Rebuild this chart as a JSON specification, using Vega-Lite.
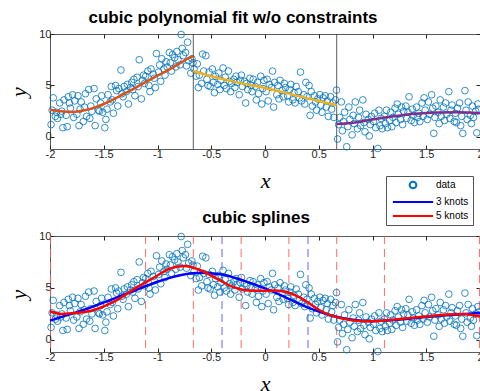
{
  "$schema": "https://vega.github.io/schema/vega-lite/v6.json",
  "padding": {"left": 7, "top": 8, "right": 0, "bottom": 0},
  "bounds": "flush",
  "spacing": 87,
  "datasets": {
    "pts": [
      {"x":-1.99,"y":1.2},{"x":-1.98,"y":2.6},{"x":-1.97,"y":3.8},{"x":-1.95,"y":2.0},{"x":-1.94,"y":2.4},{"x":-1.93,"y":1.8},{"x":-1.91,"y":3.3},{"x":-1.90,"y":2.2},
      {"x":-1.89,"y":2.5},{"x":-1.88,"y":0.9},{"x":-1.87,"y":3.6},{"x":-1.85,"y":2.1},{"x":-1.84,"y":1.0},{"x":-1.83,"y":3.9},{"x":-1.82,"y":3.3},{"x":-1.81,"y":2.8},
      {"x":-1.79,"y":4.1},{"x":-1.78,"y":1.9},{"x":-1.77,"y":3.5},{"x":-1.75,"y":2.2},{"x":-1.74,"y":4.0},{"x":-1.73,"y":1.1},{"x":-1.72,"y":2.7},{"x":-1.71,"y":3.4},
      {"x":-1.69,"y":1.5},{"x":-1.68,"y":2.9},{"x":-1.67,"y":4.2},{"x":-1.66,"y":2.0},{"x":-1.64,"y":4.6},{"x":-1.63,"y":1.8},{"x":-1.62,"y":3.0},{"x":-1.61,"y":2.5},
      {"x":-1.59,"y":4.7},{"x":-1.58,"y":1.1},{"x":-1.57,"y":3.7},{"x":-1.55,"y":2.6},{"x":-1.54,"y":2.5},{"x":-1.53,"y":3.3},{"x":-1.52,"y":4.0},{"x":-1.51,"y":2.4},
      {"x":-1.49,"y":0.9},{"x":-1.48,"y":1.7},{"x":-1.47,"y":2.7},{"x":-1.46,"y":4.1},{"x":-1.44,"y":3.4},{"x":-1.43,"y":4.9},{"x":-1.42,"y":3.6},{"x":-1.41,"y":2.3},
      {"x":-1.39,"y":5.0},{"x":-1.38,"y":4.5},{"x":-1.37,"y":3.0},{"x":-1.36,"y":4.7},{"x":-1.34,"y":6.5},{"x":-1.33,"y":4.2},{"x":-1.32,"y":3.9},{"x":-1.31,"y":4.9},
      {"x":-1.29,"y":4.4},{"x":-1.28,"y":5.1},{"x":-1.27,"y":3.2},{"x":-1.25,"y":4.8},{"x":-1.24,"y":5.3},{"x":-1.23,"y":4.6},{"x":-1.22,"y":5.6},{"x":-1.21,"y":4.0},
      {"x":-1.19,"y":5.8},{"x":-1.18,"y":4.9},{"x":-1.17,"y":7.5},{"x":-1.15,"y":3.7},{"x":-1.14,"y":5.5},{"x":-1.13,"y":6.0},{"x":-1.12,"y":5.2},{"x":-1.11,"y":5.9},
      {"x":-1.09,"y":6.4},{"x":-1.08,"y":5.0},{"x":-1.07,"y":4.4},{"x":-1.06,"y":6.6},{"x":-1.04,"y":6.1},{"x":-1.03,"y":5.7},{"x":-1.02,"y":4.8},{"x":-1.01,"y":8.1},
      {"x":-0.99,"y":6.3},{"x":-0.98,"y":7.0},{"x":-0.97,"y":5.4},{"x":-0.96,"y":7.6},{"x":-0.94,"y":6.6},{"x":-0.93,"y":6.0},{"x":-0.92,"y":7.3},{"x":-0.91,"y":6.8},
      {"x":-0.89,"y":8.2},{"x":-0.88,"y":7.2},{"x":-0.87,"y":6.4},{"x":-0.86,"y":8.0},{"x":-0.84,"y":7.7},{"x":-0.83,"y":6.8},{"x":-0.82,"y":8.3},{"x":-0.81,"y":7.5},
      {"x":-0.79,"y":7.0},{"x":-0.78,"y":9.95},{"x":-0.77,"y":8.6},{"x":-0.76,"y":7.9},{"x":-0.74,"y":8.2},{"x":-0.73,"y":6.9},{"x":-0.72,"y":9.2},{"x":-0.71,"y":7.4},
      {"x":-0.69,"y":6.2},{"x":-0.68,"y":7.6},{"x":-0.67,"y":7.2},{"x":-0.66,"y":6.6},{"x":-0.64,"y":5.9},{"x":-0.63,"y":7.1},{"x":-0.62,"y":4.8},{"x":-0.61,"y":6.0},
      {"x":-0.59,"y":5.2},{"x":-0.58,"y":8.05},{"x":-0.57,"y":6.4},{"x":-0.55,"y":7.9},{"x":-0.54,"y":5.6},{"x":-0.53,"y":5.0},{"x":-0.52,"y":6.3},{"x":-0.51,"y":4.9},
      {"x":-0.49,"y":6.6},{"x":-0.48,"y":5.3},{"x":-0.47,"y":4.3},{"x":-0.46,"y":5.9},{"x":-0.44,"y":5.1},{"x":-0.43,"y":6.2},{"x":-0.42,"y":4.6},{"x":-0.41,"y":5.5},
      {"x":-0.39,"y":6.7},{"x":-0.38,"y":5.0},{"x":-0.37,"y":5.8},{"x":-0.36,"y":4.7},{"x":-0.34,"y":6.4},{"x":-0.33,"y":5.4},{"x":-0.32,"y":4.4},{"x":-0.31,"y":5.2},
      {"x":-0.29,"y":5.6},{"x":-0.28,"y":4.8},{"x":-0.27,"y":5.9},{"x":-0.26,"y":5.3},{"x":-0.24,"y":4.1},{"x":-0.23,"y":5.5},{"x":-0.22,"y":6.0},{"x":-0.21,"y":4.9},
      {"x":-0.19,"y":5.4},{"x":-0.18,"y":3.3},{"x":-0.17,"y":5.2},{"x":-0.16,"y":4.6},{"x":-0.14,"y":5.7},{"x":-0.13,"y":5.0},{"x":-0.12,"y":4.4},{"x":-0.11,"y":5.6},
      {"x":-0.09,"y":4.9},{"x":-0.08,"y":3.6},{"x":-0.07,"y":5.3},{"x":-0.06,"y":4.2},{"x":-0.04,"y":5.9},{"x":-0.03,"y":3.2},{"x":-0.02,"y":4.7},{"x":-0.01,"y":5.5},
      {"x":0.01,"y":4.4},{"x":0.02,"y":5.6},{"x":0.03,"y":3.5},{"x":0.04,"y":5.1},{"x":0.06,"y":4.8},{"x":0.07,"y":6.4},{"x":0.08,"y":2.9},{"x":0.09,"y":5.3},
      {"x":0.11,"y":4.1},{"x":0.12,"y":5.0},{"x":0.13,"y":3.7},{"x":0.14,"y":5.5},{"x":0.16,"y":4.5},{"x":0.17,"y":3.9},{"x":0.18,"y":5.2},{"x":0.19,"y":4.8},
      {"x":0.21,"y":4.0},{"x":0.22,"y":3.4},{"x":0.23,"y":4.6},{"x":0.24,"y":5.1},{"x":0.26,"y":3.6},{"x":0.27,"y":4.3},{"x":0.28,"y":3.3},{"x":0.29,"y":4.9},
      {"x":0.31,"y":4.4},{"x":0.32,"y":3.8},{"x":0.33,"y":6.3},{"x":0.34,"y":3.5},{"x":0.36,"y":4.1},{"x":0.37,"y":3.2},{"x":0.38,"y":5.3},{"x":0.39,"y":3.9},
      {"x":0.41,"y":5.0},{"x":0.42,"y":2.1},{"x":0.43,"y":4.4},{"x":0.44,"y":3.0},{"x":0.46,"y":4.0},{"x":0.47,"y":3.4},{"x":0.48,"y":2.6},{"x":0.49,"y":3.7},
      {"x":0.51,"y":4.1},{"x":0.52,"y":3.1},{"x":0.53,"y":2.4},{"x":0.54,"y":3.8},{"x":0.56,"y":4.0},{"x":0.57,"y":2.9},{"x":0.58,"y":3.5},{"x":0.59,"y":2.0},
      {"x":0.61,"y":3.9},{"x":0.62,"y":2.7},{"x":0.63,"y":3.3},{"x":0.64,"y":1.9},{"x":0.655,"y":3.6},{"x":0.665,"y":4.55},{"x":0.675,"y":-0.2},{"x":0.685,"y":1.2},{"x":0.695,"y":1.9},
      {"x":0.71,"y":3.4},{"x":0.72,"y":0.6},{"x":0.73,"y":1.5},{"x":0.74,"y":2.4},{"x":0.76,"y":-0.95},{"x":0.77,"y":1.0},{"x":0.78,"y":2.9},{"x":0.79,"y":1.7},
      {"x":0.81,"y":0.2},{"x":0.82,"y":2.1},{"x":0.83,"y":1.3},{"x":0.84,"y":3.4},{"x":0.86,"y":0.8},{"x":0.87,"y":1.9},{"x":0.88,"y":2.6},{"x":0.89,"y":1.1},
      {"x":0.91,"y":3.6},{"x":0.92,"y":1.4},{"x":0.93,"y":0.5},{"x":0.94,"y":2.2},{"x":0.96,"y":1.7},{"x":0.97,"y":0.1},{"x":0.98,"y":1.2},{"x":0.99,"y":2.0},
      {"x":1.01,"y":1.5},{"x":1.02,"y":2.3},{"x":1.03,"y":0.9},{"x":1.05,"y":-1.12},{"x":1.06,"y":2.6},{"x":1.07,"y":1.1},{"x":1.08,"y":1.8},{"x":1.09,"y":0.8},
      {"x":1.11,"y":2.0},{"x":1.12,"y":1.3},{"x":1.13,"y":2.6},{"x":1.14,"y":0.9},{"x":1.16,"y":1.6},{"x":1.17,"y":2.4},{"x":1.18,"y":1.0},{"x":1.19,"y":1.9},
      {"x":1.21,"y":2.8},{"x":1.22,"y":1.4},{"x":1.23,"y":3.2},{"x":1.24,"y":2.2},{"x":1.26,"y":1.7},{"x":1.27,"y":2.9},{"x":1.28,"y":1.2},{"x":1.29,"y":2.5},
      {"x":1.31,"y":3.0},{"x":1.32,"y":1.8},{"x":1.33,"y":2.4},{"x":1.34,"y":3.9},{"x":1.36,"y":1.6},{"x":1.37,"y":2.7},{"x":1.38,"y":2.1},{"x":1.39,"y":1.4},
      {"x":1.41,"y":2.9},{"x":1.42,"y":1.9},{"x":1.43,"y":2.3},{"x":1.44,"y":1.5},{"x":1.46,"y":3.3},{"x":1.47,"y":2.0},{"x":1.48,"y":3.8},{"x":1.49,"y":2.6},
      {"x":1.51,"y":1.7},{"x":1.52,"y":3.4},{"x":1.53,"y":2.2},{"x":1.55,"y":4.1},{"x":1.56,"y":2.8},{"x":1.57,"y":0.35},{"x":1.58,"y":1.9},{"x":1.59,"y":3.0},
      {"x":1.61,"y":2.4},{"x":1.62,"y":1.3},{"x":1.63,"y":3.6},{"x":1.64,"y":2.0},{"x":1.66,"y":2.9},{"x":1.67,"y":1.6},{"x":1.68,"y":3.3},{"x":1.69,"y":2.2},
      {"x":1.71,"y":4.4},{"x":1.72,"y":1.8},{"x":1.73,"y":2.6},{"x":1.74,"y":3.1},{"x":1.76,"y":1.5},{"x":1.77,"y":2.3},{"x":1.78,"y":1.4},{"x":1.79,"y":2.8},
      {"x":1.81,"y":3.3},{"x":1.82,"y":1.1},{"x":1.83,"y":2.0},{"x":1.84,"y":0.35},{"x":1.86,"y":4.5},{"x":1.87,"y":2.6},{"x":1.88,"y":1.7},{"x":1.89,"y":3.4},
      {"x":1.91,"y":2.1},{"x":1.92,"y":1.3},{"x":1.93,"y":3.0},{"x":1.94,"y":1.9},{"x":1.96,"y":2.5},{"x":1.97,"y":0.4},{"x":1.98,"y":3.2},{"x":1.99,"y":2.7}
    ],
    "fitA": [
      {"x":-2,"y":2.65},{"x":-1.9,"y":2.5},{"x":-1.8,"y":2.43},{"x":-1.7,"y":2.55},{"x":-1.6,"y":2.8},{"x":-1.5,"y":3.2},{"x":-1.4,"y":3.7},{"x":-1.3,"y":4.25},{"x":-1.2,"y":4.8},{"x":-1.1,"y":5.4},{"x":-1.0,"y":5.95},{"x":-0.9,"y":6.5},{"x":-0.8,"y":7.1},{"x":-0.7,"y":7.7},{"x":-0.667,"y":7.85}
    ],
    "fitB": [
      {"x":-0.667,"y":6.4},{"x":-0.5,"y":5.9},{"x":-0.3,"y":5.4},{"x":0,"y":4.75},{"x":0.3,"y":4.0},{"x":0.5,"y":3.5},{"x":0.667,"y":3.08}
    ],
    "fitC": [
      {"x":0.667,"y":1.25},{"x":0.8,"y":1.35},{"x":1.0,"y":1.7},{"x":1.2,"y":2.0},{"x":1.4,"y":2.25},{"x":1.6,"y":2.38},{"x":1.8,"y":2.4},{"x":2.0,"y":2.3}
    ],
    "sp3": [
      {"x":-2,"y":1.85},{"x":-1.8,"y":2.5},{"x":-1.6,"y":3.2},{"x":-1.4,"y":4.0},{"x":-1.2,"y":4.8},{"x":-1.0,"y":5.6},{"x":-0.8,"y":6.2},{"x":-0.6,"y":6.45},{"x":-0.4,"y":6.3},{"x":-0.2,"y":5.7},{"x":0,"y":4.95},{"x":0.2,"y":4.05},{"x":0.4,"y":3.1},{"x":0.6,"y":2.4},{"x":0.8,"y":1.95},{"x":1.0,"y":1.8},{"x":1.2,"y":1.9},{"x":1.4,"y":2.1},{"x":1.6,"y":2.3},{"x":1.8,"y":2.45},{"x":2.0,"y":2.6}
    ],
    "sp5": [
      {"x":-2,"y":2.75},{"x":-1.9,"y":2.5},{"x":-1.8,"y":2.55},{"x":-1.6,"y":2.85},{"x":-1.4,"y":3.7},{"x":-1.2,"y":5.0},{"x":-1.0,"y":6.2},{"x":-0.9,"y":6.8},{"x":-0.75,"y":7.1},{"x":-0.6,"y":6.7},{"x":-0.45,"y":5.9},{"x":-0.3,"y":5.1},{"x":-0.15,"y":4.75},{"x":0,"y":4.72},{"x":0.1,"y":4.75},{"x":0.2,"y":4.6},{"x":0.3,"y":4.2},{"x":0.4,"y":3.6},{"x":0.5,"y":2.9},{"x":0.6,"y":2.4},{"x":0.7,"y":2.1},{"x":0.85,"y":1.85},{"x":1.0,"y":1.8},{"x":1.1,"y":1.85},{"x":1.3,"y":2.05},{"x":1.5,"y":2.25},{"x":1.7,"y":2.45},{"x":1.85,"y":2.5},{"x":2.0,"y":2.25}
    ],
    "brk": [{"x":-0.667},{"x":0.667}],
    "k3": [{"x":-0.4},{"x":0.4}],
    "k5": [{"x":-1.995},{"x":-1.111},{"x":-0.667},{"x":-0.222},{"x":0.222},{"x":0.667},{"x":1.111},{"x":1.995}]
  },
  "vconcat": [
    {
      "width": 430,
      "height": 115,
      "title": {"text": "cubic polynomial fit w/o constraints", "dx": -32, "offset": 1},
      "layer": [
        {
          "data": {"name": "pts"},
          "mark": {"type": "point", "filled": false, "color": "#0072BD", "size": 45, "strokeWidth": 0.8, "opacity": 1},
          "encoding": {
            "x": {"field": "x", "type": "quantitative", "scale": {"domain": [-2, 2], "nice": false, "zero": false},
                  "axis": {"values": [-2, -1.5, -1, -0.5, 0, 0.5, 1, 1.5, 2], "title": "x", "labelExpr": "'' + datum.value", "titlePadding": 11}},
            "y": {"field": "y", "type": "quantitative", "scale": {"domain": [-1.17, 10], "nice": false, "zero": false},
                  "axis": {"values": [0, 5, 10], "title": "y", "titlePadding": 8}}
          }
        },
        {
          "data": {"name": "brk"},
          "mark": {"type": "rule", "color": "#333333", "strokeWidth": 0.8},
          "encoding": {"x": {"field": "x", "type": "quantitative", "axis": null}}
        },
        {
          "data": {"name": "fitA"},
          "mark": {"type": "line", "color": "#D95319", "strokeWidth": 2.5, "interpolate": "monotone"},
          "encoding": {"x": {"field": "x", "type": "quantitative", "axis": null}, "y": {"field": "y", "type": "quantitative", "axis": null}}
        },
        {
          "data": {"name": "fitB"},
          "mark": {"type": "line", "color": "#EDB120", "strokeWidth": 2.5, "interpolate": "monotone"},
          "encoding": {"x": {"field": "x", "type": "quantitative", "axis": null}, "y": {"field": "y", "type": "quantitative", "axis": null}}
        },
        {
          "data": {"name": "fitC"},
          "mark": {"type": "line", "color": "#7E2F8E", "strokeWidth": 2.5, "interpolate": "monotone"},
          "encoding": {"x": {"field": "x", "type": "quantitative", "axis": null}, "y": {"field": "y", "type": "quantitative", "axis": null}}
        },
        {
          "data": {"name": "brk"},
          "mark": {"type": "point", "opacity": 0},
          "encoding": {
            "x": {"field": "x", "type": "quantitative", "axis": {"orient": "top", "labels": false, "title": null, "values": [-2, -1.5, -1, -0.5, 0, 0.5, 1, 1.5, 2]}},
            "y": {"datum": 5, "type": "quantitative", "axis": {"orient": "right", "labels": false, "title": null, "values": [0, 5, 10]}}
          }
        }
      ],
      "resolve": {"axis": {"x": "independent", "y": "independent"}}
    },
    {
      "width": 430,
      "height": 116,
      "title": {"text": "cubic splines", "dx": -9, "offset": 3},
      "layer": [
        {
          "data": {"name": "k5"},
          "mark": {"type": "rule", "color": "#FF5A5A", "strokeWidth": 0.9, "strokeDash": [8, 5]},
          "encoding": {"x": {"field": "x", "type": "quantitative", "axis": null}}
        },
        {
          "data": {"name": "k3"},
          "mark": {"type": "rule", "color": "#3a3aff", "strokeWidth": 0.8, "strokeDash": [8, 5]},
          "encoding": {"x": {"field": "x", "type": "quantitative", "axis": null}}
        },
        {
          "data": {"name": "pts"},
          "mark": {"type": "point", "filled": false, "size": 45, "strokeWidth": 0.8, "opacity": 1},
          "encoding": {
            "x": {"field": "x", "type": "quantitative", "scale": {"domain": [-2, 2], "nice": false, "zero": false},
                  "axis": {"values": [-2, -1.5, -1, -0.5, 0, 0.5, 1, 1.5, 2], "title": "x", "labelExpr": "'' + datum.value", "titlePadding": 11}},
            "y": {"field": "y", "type": "quantitative", "scale": {"domain": [-1.17, 10], "nice": false, "zero": false},
                  "axis": {"values": [0, 5, 10], "title": "y", "titlePadding": 8}},
            "color": {"datum": "data", "type": "nominal",
                      "scale": {"domain": ["data", "3 knots", "5 knots"], "range": ["#0072BD", "#0000FF", "#FF0000"]},
                      "legend": {"orient": "none", "legendX": 336, "legendY": 142, "title": null, "symbolOffset": 18, "labelOffset": 18, "rowPadding": 4, "labelExpr": "datum.label + '\u00a0\u00a0'"}},
            "shape": {"datum": "data", "type": "nominal",
                      "scale": {"domain": ["data", "3 knots", "5 knots"], "range": ["circle", "M-6,0H6", "M-6,0H6"]},
                      "legend": {"orient": "none", "legendX": 336, "legendY": 142, "title": null, "symbolOffset": 18, "labelOffset": 18, "rowPadding": 4, "labelExpr": "datum.label + '\u00a0\u00a0'"}}
          }
        },
        {
          "data": {"name": "sp3"},
          "mark": {"type": "line", "interpolate": "monotone", "strokeWidth": 2.5},
          "encoding": {"x": {"field": "x", "type": "quantitative", "axis": null}, "y": {"field": "y", "type": "quantitative", "axis": null},
                       "color": {"datum": "3 knots", "type": "nominal"}}
        },
        {
          "data": {"name": "sp5"},
          "mark": {"type": "line", "interpolate": "monotone", "strokeWidth": 2.5},
          "encoding": {"x": {"field": "x", "type": "quantitative", "axis": null}, "y": {"field": "y", "type": "quantitative", "axis": null},
                       "color": {"datum": "5 knots", "type": "nominal"}}
        },
        {
          "data": {"name": "k3"},
          "mark": {"type": "point", "opacity": 0},
          "encoding": {
            "x": {"field": "x", "type": "quantitative", "axis": {"orient": "top", "labels": false, "title": null, "values": [-2, -1.5, -1, -0.5, 0, 0.5, 1, 1.5, 2]}},
            "y": {"datum": 5, "type": "quantitative", "axis": {"orient": "right", "labels": false, "title": null, "values": [0, 5, 10]}}
          }
        }
      ],
      "resolve": {"axis": {"x": "independent", "y": "independent"}}
    }
  ],
  "config": {
    "view": {"stroke": "#5a5a5a", "strokeWidth": 1},
    "font": "Liberation Sans",
    "title": {"fontSize": 17, "fontWeight": "bold", "font": "Liberation Sans", "color": "#000000", "baseline": "alphabetic"},
    "axis": {"labelFont": "Liberation Sans", "labelFontSize": 11, "labelColor": "#262626", "tickColor": "#262626", "tickSize": -4, "grid": false, "domain": false, "labelPadding": 3, "labelFlush": false, "labelOverlap": false, "labelBound": false,
             "titleFont": "Liberation Serif", "titleFontStyle": "italic", "titleFontWeight": "normal", "titleFontSize": 22, "titleColor": "#000000"},
    "legend": {"strokeColor": "#555555", "fillColor": "#ffffff", "padding": 4, "labelFontSize": 10, "labelFont": "Liberation Sans", "labelColor": "#000000", "rowPadding": 4, "symbolSize": 45, "symbolStrokeWidth": 2}
  }
}
